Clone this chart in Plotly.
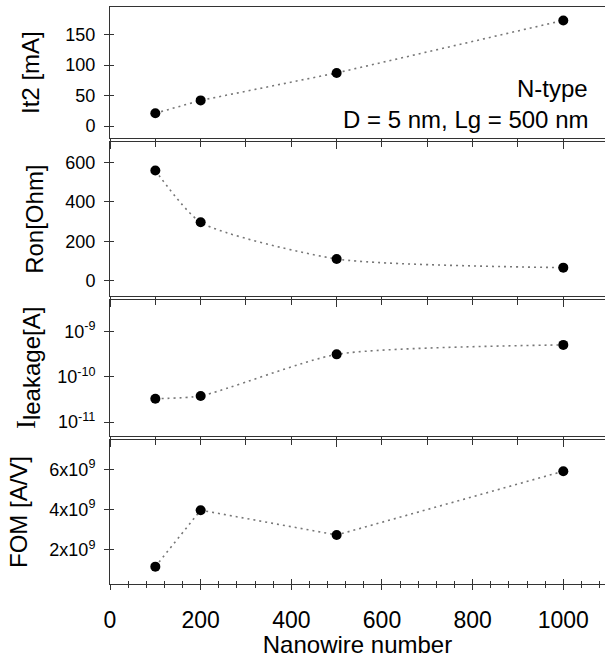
import plotly.graph_objects as go

# ---- data ----
nanowire = [100, 200, 500, 1000]
it2_mA = [21, 42, 87, 173]
ron_ohm = [559, 296, 110, 66]
ileak_A = [3.3e-11, 3.8e-11, 3.15e-10, 5.1e-10]
fom_AV = [1.17e9, 3.97e9, 2.74e9, 5.9e9]

it2_ticks = [0, 50, 100, 150]
ron_ticks = [0, 200, 400, 600]
ileak_ticks = [1e-11, 1e-10, 1e-9]
ileak_ticktext = ["10<sup>-11</sup>", "10<sup>-10</sup>", "10<sup>-9</sup>"]
fom_ticks = [2e9, 4e9, 6e9]
fom_ticktext = ["2x10<sup>9</sup>", "4x10<sup>9</sup>", "6x10<sup>9</sup>"]

annot_lines = ["N-type", "D = 5 nm, Lg = 500 nm"]

FONT = "Arial, Liberation Sans, sans-serif"
AXC = "#333333"
XR = [0, 1092]

fig = go.Figure()

series = [
    (it2_mA, "x", "y", "linear"),
    (ron_ohm, "x2", "y2", "spline"),
    (ileak_A, "x3", "y3", "spline"),
    (fom_AV, "x4", "y4", "linear"),
]
for vals, xa, ya, shape in series:
    fig.add_trace(go.Scatter(
        x=nanowire, y=vals, xaxis=xa, yaxis=ya, mode="lines+markers",
        line=dict(color="#777777", width=1.6, dash="2px,4px", shape=shape,
                  smoothing=0.6 if shape == "spline" else None),
        marker=dict(color="black", size=10),
        showlegend=False, hoverinfo="x+y"))

# empty traces to attach overlay axes that draw the inner half of crossing ticks
for xa, ya in [("x5", "y4"), ("x", "y5"), ("x2", "y6"), ("x3", "y7"), ("x4", "y8")]:
    fig.add_trace(go.Scatter(x=[], y=[], xaxis=xa, yaxis=ya, showlegend=False))

domains = [[0.7725, 1.0], [0.4991, 0.7655], [0.2570, 0.4922], [0.0, 0.2496]]

top_x = dict(range=XR, showline=True, linecolor=AXC, linewidth=1, mirror=True,
             showgrid=False, zeroline=False, showticklabels=False,
             ticks="outside", tickcolor=AXC, ticklen=10, tick0=0, dtick=500,
             minor=dict(ticks="outside", ticklen=8, dtick=100, tickcolor=AXC, showgrid=False))

layout = dict(
    width=605, height=658,
    margin=dict(l=110, r=0, t=7, b=74),
    plot_bgcolor="white", paper_bgcolor="white",
    font=dict(family=FONT, color="black"),
    xaxis=dict(top_x, anchor="y"),
    xaxis2=dict(top_x, anchor="y2"),
    xaxis3=dict(top_x, anchor="y3"),
    xaxis4=dict(range=XR, anchor="y4", showline=True, linecolor=AXC, linewidth=1,
                mirror=True, showgrid=False, zeroline=False,
                ticks="outside", tickcolor=AXC, ticklen=5, tick0=0, dtick=200,
                minor=dict(ticks="outside", ticklen=3, dtick=40, tickcolor=AXC, showgrid=False),
                tickfont=dict(size=23, family=FONT), ticklabelstandoff=10,
                title=dict(text="Nanowire number", font=dict(size=24, family=FONT), standoff=3)),
    xaxis5=dict(range=XR, anchor="y4", overlaying="x4", showline=False, showgrid=False,
                zeroline=False, showticklabels=False, ticks="inside", tickcolor=AXC,
                ticklen=5, tick0=0, dtick=200,
                minor=dict(ticks="inside", ticklen=3, dtick=40, tickcolor=AXC, showgrid=False)),
)

ycommon = dict(showline=True, linecolor=AXC, linewidth=1, showgrid=False, zeroline=False,
               ticks="outside", ticklen=5, tickcolor=AXC,
               tickfont=dict(size=18, family=FONT), ticklabelstandoff=5)

ytitles = [
    "It2 [mA]",
    "Ron[Ohm]",
    "<span style='font-family:Liberation Serif;font-size:27px'>I</span>"
    "<sub><span style='font-size:24px'>leakage[A]</span></sub>",
    "FOM [A/V]",
]
ystandoff = [18, 14, 14, 14]
yspecs = [
    dict(range=[-20, 195], tickvals=it2_ticks),
    dict(range=[-78, 702], tickvals=ron_ticks),
    dict(type="log", range=[-11.30, -8.30], tickvals=ileak_ticks, ticktext=ileak_ticktext),
    dict(range=[0.31e9, 7.45e9], tickvals=fom_ticks, ticktext=fom_ticktext),
]
xnames = ["x", "x2", "x3", "x4"]
for i in range(4):
    name = "yaxis" if i == 0 else f"yaxis{i+1}"
    layout[name] = dict(ycommon, **yspecs[i], domain=domains[i], anchor=xnames[i],
                        title=dict(text=ytitles[i], font=dict(size=24, family=FONT),
                                   standoff=ystandoff[i]))
    ov = dict(yspecs[i])
    ov.pop("ticktext", None)
    layout[f"yaxis{i+5}"] = dict(ov, overlaying="y" if i == 0 else f"y{i+1}",
                                 anchor=xnames[i], showline=False, showgrid=False,
                                 zeroline=False, showticklabels=False,
                                 ticks="inside", ticklen=4, tickcolor=AXC)

fig.update_layout(**layout)

ys = [0.8596, 0.8042]
for txt, yy in zip(annot_lines, ys):
    fig.add_annotation(text=txt, xref="paper", yref="paper", x=0.9697, y=yy,
                       xanchor="right", yanchor="middle", showarrow=False,
                       font=dict(size=24, family=FONT, color="black"))

fig.write_html("out.html",
               config={"displayModeBar": False},
               post_script="document.body.style.margin='0';document.body.style.padding='0';")
